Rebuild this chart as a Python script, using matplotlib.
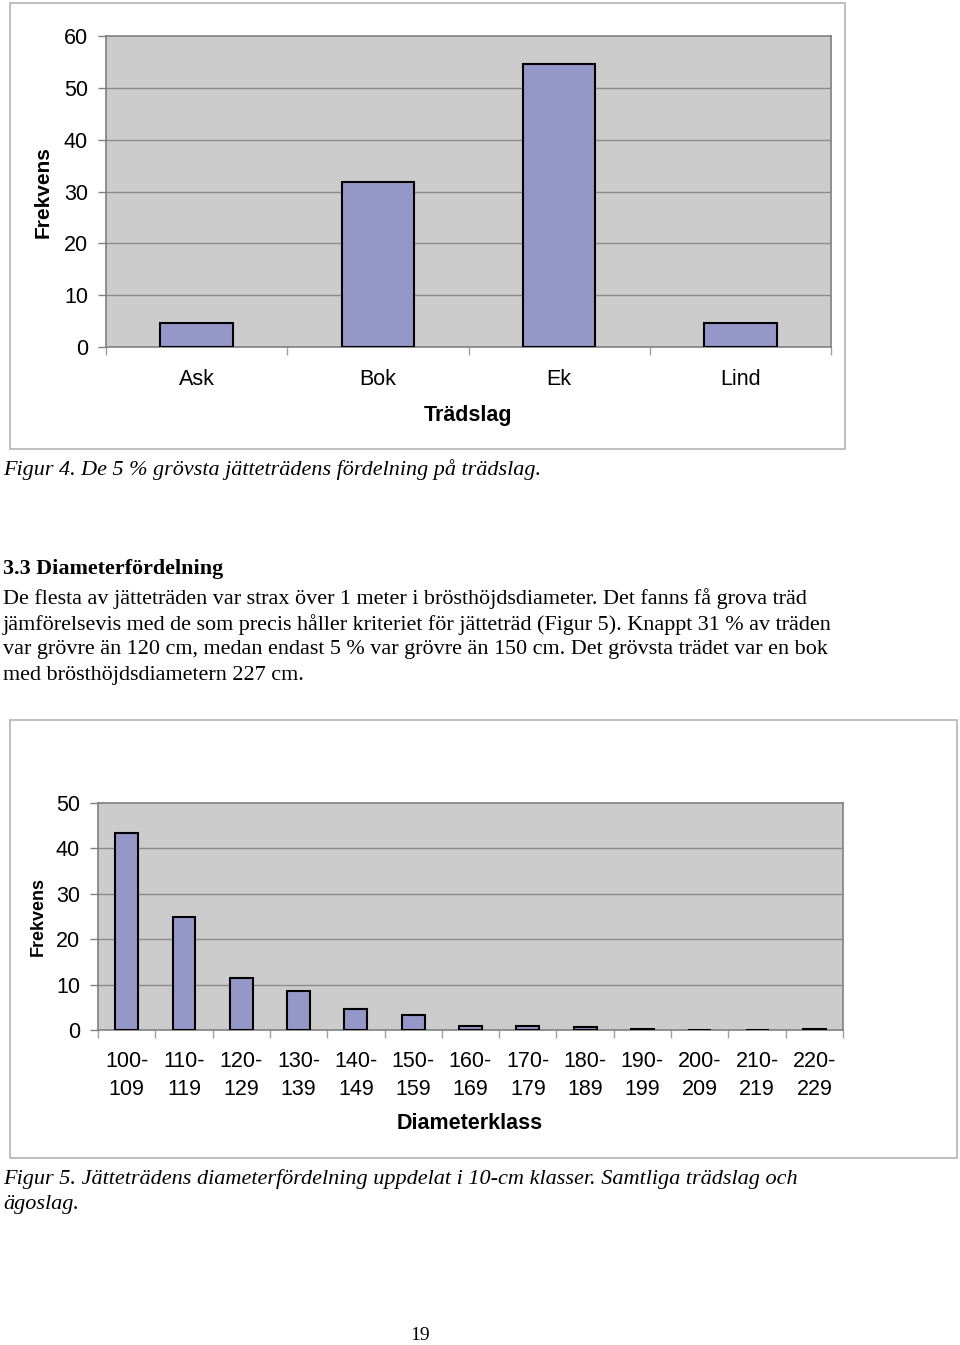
import matplotlib.pyplot as plt
from matplotlib.patches import Rectangle
import numpy as np

plt.rcParams['font.family'] = ['Liberation Sans', 'DejaVu Sans']

# Data read from the page
tradslag = ["Ask", "Bok", "Ek", "Lind"]
frekvens_tradslag = [4.6, 31.8, 54.6, 4.6]

diameterklass = ["100-\n109", "110-\n119", "120-\n129", "130-\n139", "140-\n149",
                 "150-\n159", "160-\n169", "170-\n179", "180-\n189", "190-\n199",
                 "200-\n209", "210-\n219", "220-\n229"]
frekvens_diameter = [43.4, 25.0, 11.4, 8.6, 4.7, 3.3, 0.8, 0.8, 0.6, 0.3, 0.0, 0.0, 0.3]

W, H = 960, 1345
BAR = "#9597c9"
BG = "#cccccc"
GRID = "#8c8c8c"
FRAME = "#b4b4b4"

fig = plt.figure(figsize=(W / 100, H / 100), dpi=100)


def px_rect(x0, y0, x1, y1):
    return [x0 / W, 1 - y1 / H, (x1 - x0) / W, (y1 - y0) / H]


def fy(y):
    return 1 - y / H


def frame(x0, y0, x1, y1):
    fig.add_artist(Rectangle((x0 / W, 1 - y1 / H), (x1 - x0) / W, (y1 - y0) / H,
                             transform=fig.transFigure, fill=False,
                             edgecolor=FRAME, lw=1.2))


def style_axes(ax, ymax, ystep, n):
    ax.set_facecolor(BG)
    ax.set_xlim(-0.5, n - 0.5)
    ax.set_ylim(0, ymax)
    ax.set_yticks(np.arange(0, ymax + 1, ystep))
    for y in np.arange(ystep, ymax, ystep):
        ax.axhline(y, color=GRID, lw=1.0, zorder=1)
    for s in ax.spines.values():
        s.set_color("#808080")
        s.set_linewidth(1.2)
    ax.set_xticks(np.arange(-0.5, n, 1.0))
    ax.set_xticklabels([])
    ax.tick_params(axis="x", which="major", direction="out", length=6,
                   color="#a0a0a0", width=1)
    ax.tick_params(axis="y", direction="out", length=6, color="#808080",
                   width=1, labelsize=15.5, pad=7)


# ---------- Figure 4 ----------
frame(10, 3, 845, 449)
ax1 = fig.add_axes(px_rect(106, 36, 831, 347))
style_axes(ax1, 60, 10, len(tradslag))
x1 = np.arange(len(tradslag))
ax1.bar(x1, frekvens_tradslag, width=0.4, color=BAR, edgecolor="black",
        lw=1.5, zorder=3)
ax1.set_xticks(x1, minor=True)
ax1.set_xticklabels(tradslag, minor=True, fontsize=15.5)
ax1.tick_params(axis="x", which="minor", length=0, pad=16)
ax1.set_xlabel("Trädslag", fontsize=15.5, fontweight="bold", va="center")
ax1.xaxis.set_label_coords(0.499, -0.219)
ax1.set_ylabel("Frekvens", fontsize=15, fontweight="bold", va="center")
ax1.yaxis.set_label_coords(-0.087, 0.498)

fig.text(3 / W, fy(470), "Figur 4. De 5 % grövsta jätteträdens fördelning på trädslag.",
         family="Liberation Serif", style="italic", fontsize=15.9, va="center")

# ---------- Text ----------
fig.text(3 / W, fy(569), "3.3 Diameterfördelning", family="Liberation Serif",
         fontweight="bold", fontsize=15.9, va="center")
lines = [
    "De flesta av jätteträden var strax över 1 meter i brösthöjdsdiameter. Det fanns få grova träd",
    "jämförelsevis med de som precis håller kriteriet för jätteträd (Figur 5). Knappt 31 % av träden",
    "var grövre än 120 cm, medan endast 5 % var grövre än 150 cm. Det grövsta trädet var en bok",
    "med brösthöjdsdiametern 227 cm.",
]
for i, t in enumerate(lines):
    fig.text(3 / W, fy(599 + i * 25.4), t, family="Liberation Serif",
             fontsize=15.9, va="center")

# ---------- Figure 5 ----------
frame(10, 720, 957, 1158)
ax2 = fig.add_axes(px_rect(98, 803, 843, 1030))
style_axes(ax2, 50, 10, len(diameterklass))
x2 = np.arange(len(diameterklass))
ax2.bar(x2, frekvens_diameter, width=0.4, color=BAR, edgecolor="black",
        lw=1.5, zorder=3)
ax2.set_xticks(x2, minor=True)
ax2.set_xticklabels(diameterklass, minor=True, fontsize=15.5, linespacing=1.45)
ax2.tick_params(axis="x", which="minor", length=0, pad=15)
ax2.set_xlabel("Diameterklass", fontsize=15.5, fontweight="bold", va="center")
ax2.xaxis.set_label_coords(0.499, -0.414)
ax2.set_ylabel("Frekvens", fontsize=13, fontweight="bold", va="center")
ax2.yaxis.set_label_coords(-0.0805, 0.498)

fig.text(3 / W, fy(1179),
         "Figur 5. Jätteträdens diameterfördelning uppdelat i 10-cm klasser. Samtliga trädslag och",
         family="Liberation Serif", style="italic", fontsize=16, va="center")
fig.text(3 / W, fy(1205), "ägoslag.", family="Liberation Serif", style="italic",
         fontsize=16, va="center")

fig.text(420 / W, fy(1336), "19", family="Liberation Serif", fontsize=14,
         ha="center", va="center")

plt.savefig("out.png", dpi=100)
